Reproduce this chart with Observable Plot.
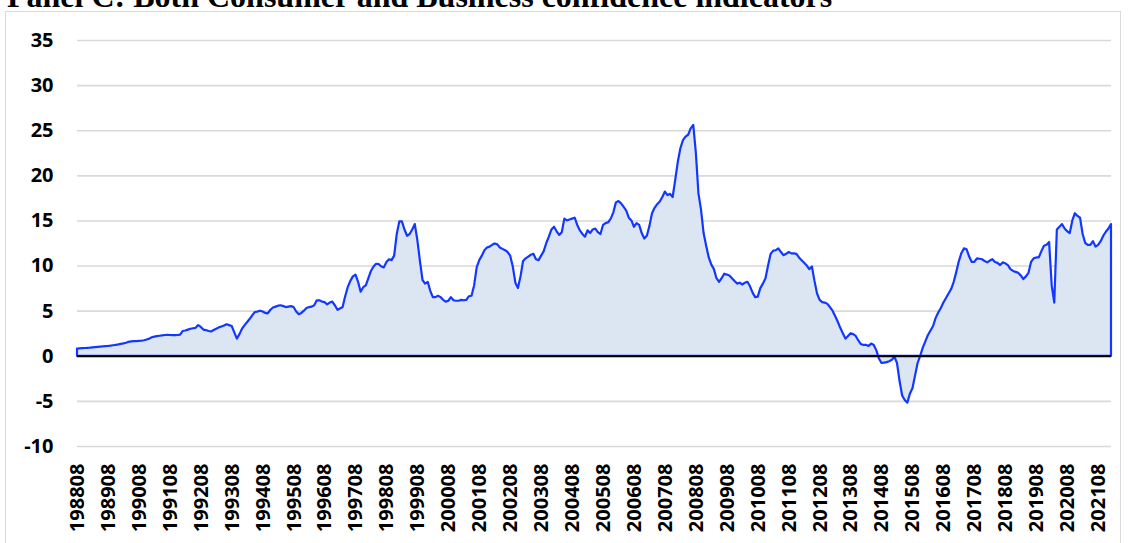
<!DOCTYPE html>
<html><head><meta charset="utf-8">
<script src="https://cdn.jsdelivr.net/npm/d3@7"></script>
<script src="https://cdn.jsdelivr.net/npm/@observablehq/plot@0.6"></script>
<style>
body{margin:0;background:#fff;overflow:hidden}
#wrap{position:relative;width:1129px;height:543px;overflow:hidden}
#title{position:absolute;left:7px;top:-20px;font-family:"Liberation Serif","Times New Roman",serif;font-weight:bold;font-size:32px;line-height:32px;white-space:nowrap;color:#000}
#frame{position:absolute;left:5px;top:11px;width:1116px;height:600px;border:1px solid #d9d9d9;box-sizing:border-box}
#chart{position:absolute;left:0;top:0}
</style></head><body>
<div id="wrap"><div id="frame"></div><div id="chart"></div><div id="title">Panel C: Both Consumer and Business confidence indicators</div></div>
<script>
// monthly values, starting 198808
const s1 = [0.80,0.82,0.84,0.86,0.88,0.90,0.93,0.96,0.99,1.02,1.05,1.08,
  1.10,1.13,1.17,1.21,1.26,1.32,1.38,1.45,1.55,1.60,1.62,1.62,
  1.65,1.68,1.72,1.80,1.90,2.05,2.12,2.18,2.22,2.26,2.30,2.32,
  2.30,2.28,2.28,2.30,2.35,2.75,2.80,2.90,3.00,3.05,3.10,3.40,
  3.20,2.90,2.85,2.75,2.70,2.85,3.00,3.15,3.25,3.35,3.50,3.40];
const s2 = [3.30,2.60,1.90,2.40,3.00,3.40,3.75,4.10,4.50,4.85,4.90,5.00,
  4.90,4.75,4.70,5.10,5.35,5.45,5.55,5.60,5.50,5.40,5.45,5.50,
  5.40,4.90,4.60,4.75,5.00,5.30,5.40,5.45,5.60,6.15,6.15,6.00,
  5.95,5.70,5.90,6.00,5.60,5.10,5.25,5.40,6.60,7.60,8.30,8.80,
  9.00,8.20,7.10,7.60,7.80,8.60,9.40,9.90,10.20,10.15,9.90,9.80];
const s3 = [10.40,10.70,10.60,11.10,13.50,14.90,14.90,14.00,13.30,13.50,14.00,14.60,
  12.80,10.50,8.40,8.00,8.20,7.20,6.50,6.50,6.65,6.50,6.20,6.00,
  6.10,6.50,6.15,6.10,6.10,6.20,6.15,6.20,6.60,6.65,7.80,9.80,
  10.60,11.10,11.70,12.00,12.10,12.30,12.45,12.35,12.00,11.85,11.70,11.50,
  11.10,9.90,8.10,7.50,8.80,10.50,10.80,11.00,11.20,11.30,10.70,10.60];
const s4 = [11.10,11.60,12.50,13.20,14.00,14.30,13.80,13.40,13.70,15.20,15.00,15.10,
  15.20,15.30,14.50,13.90,13.50,13.20,13.90,13.60,14.00,14.10,13.70,13.50,
  14.50,14.70,14.80,15.20,15.90,17.00,17.15,16.90,16.50,16.10,15.30,15.00,
  14.30,14.70,14.50,13.60,13.00,13.30,14.40,15.80,16.40,16.80,17.10,17.60,
  18.20,17.80,17.95,17.60,19.50,21.50,23.00,23.90,24.30,24.50,25.20,25.60];
const s5 = [22.50,18.00,16.20,13.60,12.20,10.90,10.10,9.60,8.60,8.20,8.60,9.10,
  9.00,8.90,8.60,8.30,8.00,8.10,7.90,8.10,8.20,7.70,7.00,6.50,
  6.55,7.50,8.00,8.60,10.00,11.30,11.65,11.70,11.90,11.50,11.15,11.30,
  11.50,11.35,11.35,11.30,10.90,10.60,10.30,10.00,9.60,9.90,8.30,6.90,
  6.20,5.95,5.90,5.75,5.40,5.00,4.40,3.80,3.10,2.50,1.90,2.20];
const s6 = [2.50,2.40,2.20,1.70,1.30,1.20,1.20,1.10,1.35,1.20,0.60,-0.30,
  -0.80,-0.75,-0.70,-0.60,-0.45,-0.10,-0.80,-2.80,-4.40,-4.90,-5.20,-4.20,
  -3.60,-2.20,-0.80,0.00,0.90,1.60,2.30,2.80,3.30,4.20,4.80,5.30,
  5.90,6.40,6.90,7.40,8.20,9.30,10.50,11.40,11.90,11.80,11.00,10.40,
  10.40,10.80,10.75,10.70,10.50,10.35,10.55,10.70,10.40,10.30,10.05,10.35];
const s7 = [10.25,10.05,9.60,9.40,9.30,9.20,8.90,8.50,8.80,9.20,10.40,10.80,
  10.90,10.90,11.60,12.20,12.30,12.60,7.80,5.90,14.00,14.30,14.60,14.10,
  13.80,13.60,15.00,15.80,15.50,15.30,13.50,12.50,12.30,12.30,12.70,12.10,
  12.30,12.70,13.30,13.75,14.10,14.60];

const xTicks = ["198808","198908","199008","199108","199208","199308","199408","199508","199608","199708","199808","199908","200008","200108","200208","200308","200408","200508","200608","200708","200808","200908","201008","201108","201208","201308","201408","201508","201608","201708","201808","201908","202008","202108"];
const yTicks = [-10,-5,0,5,10,15,20,25,30,35];

const values = [].concat(s1,s2,s3,s4,s5,s6,s7);
const startYear = 1988, startMonth = 8;
const data = values.map((v,i)=>{
  const m = startMonth - 1 + i;
  const yy = startYear + Math.floor(m/12), mm = (m%12)+1;
  return {date: String(yy) + String(mm).padStart(2,"0"), value: v};
});

const chart = Plot.plot({
  width: 1129, height: 543,
  marginLeft: 77, marginRight: 18, marginTop: 40, marginBottom: 97,
  style: {fontFamily: "'Open Sans', sans-serif", fontSize: "20px", fontWeight: "bold", color: "#000", background: "transparent"},
  x: {type: "point", domain: data.map(d=>d.date), padding: 0},
  y: {domain: [-10, 35]},
  marks: [
    Plot.gridY(yTicks, {stroke: "#d9d9d9", strokeOpacity: 1, strokeWidth: 1.6}),
    Plot.areaY(data, {x: "date", y: "value", fill: "#dce6f2", stroke: "#1238ff", strokeWidth: 2.2, strokeLinejoin: "round"}),
    Plot.ruleY([0], {stroke: "#000", strokeWidth: 2}),
    Plot.axisY(yTicks, {tickSize: 0, tickPadding: 24, label: null, tickFormat: d => String(d), fontWeight: "bold", fill: "#000"}),
    Plot.axisX(xTicks, {tickSize: 0, tickPadding: 17, tickRotate: -90, label: null, fontWeight: "bold", fill: "#000"})
  ]
});
document.getElementById("chart").appendChild(chart);
</script>
</body></html>
